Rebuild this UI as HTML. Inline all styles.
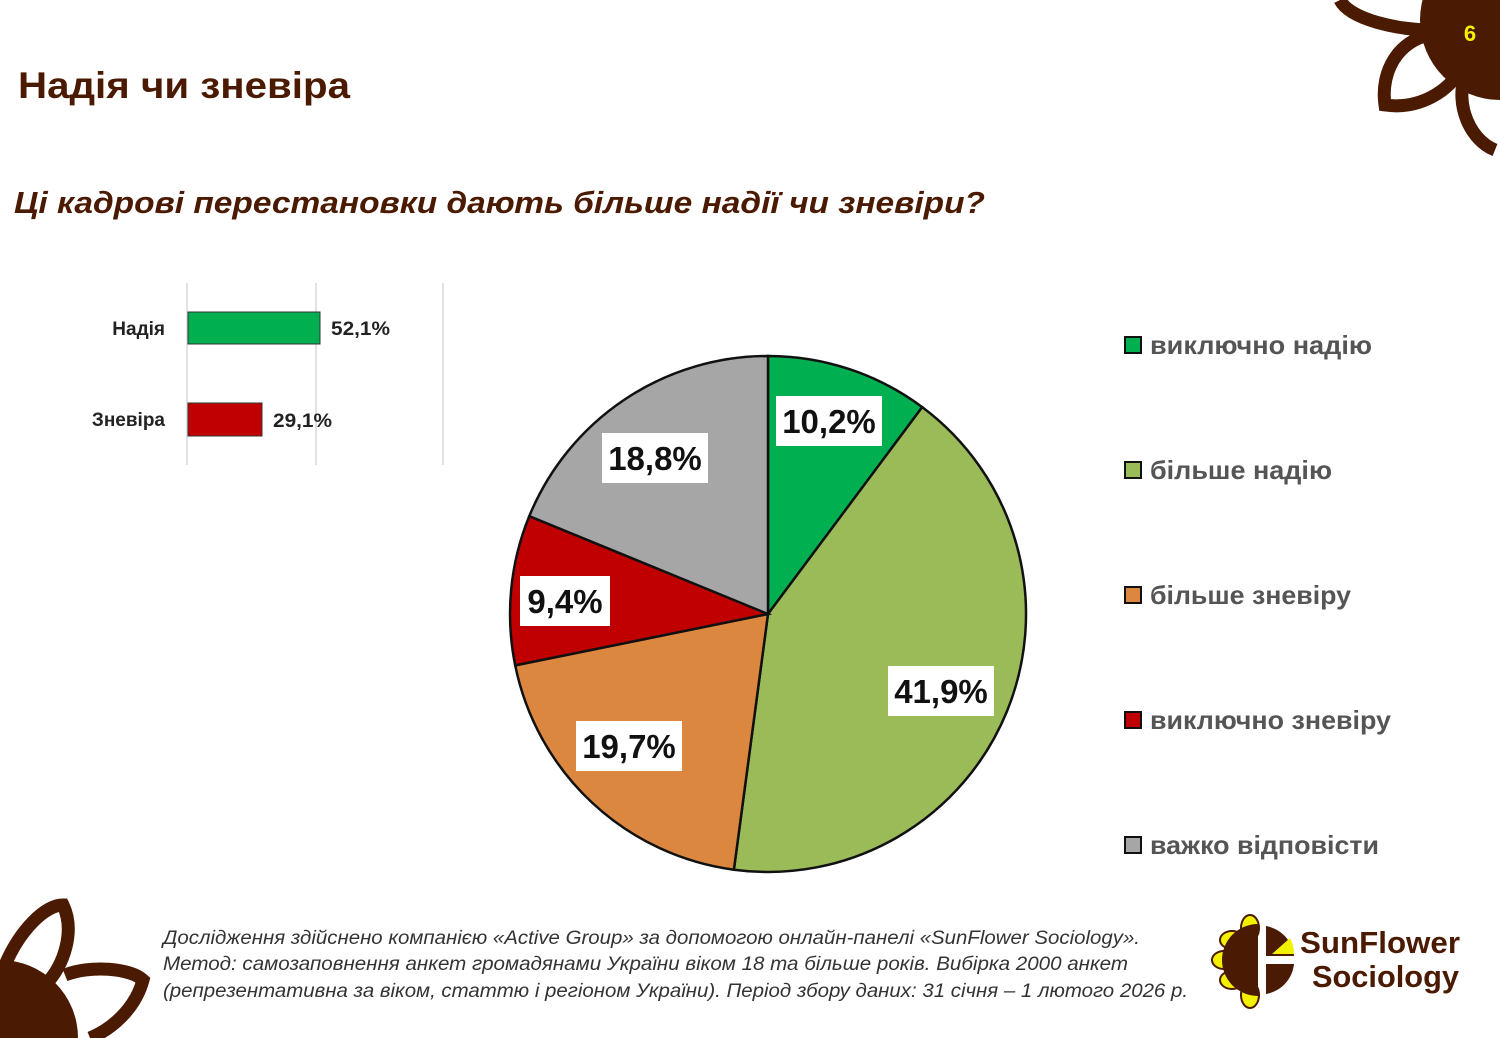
<!DOCTYPE html>
<html><head><meta charset="utf-8"><style>
html,body{margin:0;padding:0;background:#fff;overflow:hidden;width:1500px;height:1038px;}
svg{display:block;font-family:"Liberation Sans","DejaVu Sans",sans-serif;}
</style></head><body>
<svg width="1500" height="1038" viewBox="0 0 1500 1038" xmlns="http://www.w3.org/2000/svg">
<rect width="1500" height="1038" fill="#fff"/>
<!-- top-right flower -->
<g fill="none" stroke="#4a1a02" stroke-width="13">
<path d="M1340 0 C1350 20 1400 30 1430 30"/>
<path d="M1430 35 C1400 40 1380 70 1385 105 C1420 110 1450 90 1460 70"/>
<path d="M1465 75 C1455 105 1470 140 1495 150"/>
</g>
<circle cx="1500" cy="20" r="80" fill="#4a1a02"/>
<text x="1470" y="41" font-size="22" font-weight="bold" fill="#f2f200" text-anchor="middle">6</text>
<!-- bottom-left flower -->
<g fill="none" stroke="#4a1a02" stroke-width="13">
<path d="M5 965 C20 930 45 905 63 905 C75 930 65 965 45 985"/>
<path d="M65 975 C90 965 130 968 143 980 C135 1010 110 1030 90 1038"/>
</g>
<circle cx="0" cy="1038" r="78" fill="#4a1a02"/>
<!-- titles -->
<text x="18" y="98" font-size="37" font-weight="bold" fill="#4a1a02" textLength="332" lengthAdjust="spacingAndGlyphs">Надія чи зневіра</text>
<text x="14" y="213" font-size="31" font-weight="bold" font-style="italic" fill="#4a1a02" textLength="971" lengthAdjust="spacingAndGlyphs">Ці кадрові перестановки дають більше надії чи зневіри?</text>
<!-- bar chart -->
<g stroke="#d9d9d9" stroke-width="1.5">
<line x1="187" y1="283" x2="187" y2="465"/><line x1="316" y1="283" x2="316" y2="465"/><line x1="443" y1="283" x2="443" y2="465"/>
</g>
<rect x="188" y="312" width="132" height="32" fill="#00b050" stroke="#333" stroke-width="1"/>
<rect x="188" y="403" width="74" height="33" fill="#c00000" stroke="#333" stroke-width="1"/>
<g font-size="19" font-weight="bold" fill="#222">
<text x="165" y="335" text-anchor="end">Надія</text>
<text x="165" y="426" text-anchor="end">Зневіра</text>
<text x="331" y="335" textLength="59" lengthAdjust="spacingAndGlyphs">52,1%</text>
<text x="273" y="427" textLength="59" lengthAdjust="spacingAndGlyphs">29,1%</text>
</g>
<!-- pie -->
<g stroke="#111" stroke-width="2.5">
<path d="M768 614 L768 356 A258 258 0 0 1 922.2 407.1 Z" fill="#00b050"/>
<path d="M768 614 L922.2 407.1 A258 258 0 0 1 733.9 869.7 Z" fill="#9bbb59"/>
<path d="M768 614 L733.9 869.7 A258 258 0 0 1 515.2 665.4 Z" fill="#db8740"/>
<path d="M768 614 L515.2 665.4 A258 258 0 0 1 529.3 516.1 Z" fill="#c00000"/>
<path d="M768 614 L529.3 516.1 A258 258 0 0 1 768 356 Z" fill="#a6a6a6"/>
</g>
<g font-size="33" font-weight="bold" fill="#111">
<rect x="776" y="396" width="106" height="50" fill="#fff"/><text x="829" y="433" text-anchor="middle">10,2%</text>
<rect x="602" y="433" width="106" height="50" fill="#fff"/><text x="655" y="470" text-anchor="middle">18,8%</text>
<rect x="520" y="576" width="90" height="50" fill="#fff"/><text x="565" y="613" text-anchor="middle">9,4%</text>
<rect x="888" y="666" width="106" height="50" fill="#fff"/><text x="941" y="703" text-anchor="middle">41,9%</text>
<rect x="576" y="721" width="106" height="50" fill="#fff"/><text x="629" y="758" text-anchor="middle">19,7%</text>
</g>
<!-- legend -->
<g stroke="#111" stroke-width="2">
<rect x="1125" y="337" width="16" height="16" fill="#00b050"/>
<rect x="1125" y="462" width="16" height="16" fill="#9bbb59"/>
<rect x="1125" y="587" width="16" height="16" fill="#db8740"/>
<rect x="1125" y="712" width="16" height="16" fill="#c00000"/>
<rect x="1125" y="837" width="16" height="16" fill="#a6a6a6"/>
</g>
<g font-size="26" font-weight="bold" fill="#555">
<text x="1150" y="354" textLength="222" lengthAdjust="spacingAndGlyphs">виключно надію</text>
<text x="1150" y="479" textLength="182" lengthAdjust="spacingAndGlyphs">більше надію</text>
<text x="1150" y="604" textLength="201" lengthAdjust="spacingAndGlyphs">більше зневіру</text>
<text x="1150" y="729" textLength="241" lengthAdjust="spacingAndGlyphs">виключно зневіру</text>
<text x="1150" y="854" textLength="229" lengthAdjust="spacingAndGlyphs">важко відповісти</text>
</g>
<!-- footer -->
<g font-size="19" font-style="italic" fill="#333">
<text x="163" y="944" textLength="977" lengthAdjust="spacingAndGlyphs">Дослідження здійснено компанією «Active Group» за допомогою онлайн-панелі «SunFlower Sociology».</text>
<text x="163" y="970" textLength="965" lengthAdjust="spacingAndGlyphs">Метод: самозаповнення анкет громадянами України віком 18 та більше років. Вибірка 2000 анкет</text>
<text x="163" y="997" textLength="1025" lengthAdjust="spacingAndGlyphs">(репрезентативна за віком, статтю і регіоном України). Період збору даних: 31 січня – 1 лютого 2026 р.</text>
</g>
<!-- logo -->
<g stroke="#4a1a02" stroke-width="2" fill="#f2f200">
<ellipse cx="1250" cy="928" rx="9" ry="13"/>
<ellipse cx="1232" cy="940" rx="12" ry="9"/>
<ellipse cx="1224" cy="960" rx="12" ry="9"/>
<ellipse cx="1232" cy="980" rx="12" ry="9"/>
<ellipse cx="1250" cy="995" rx="9" ry="13"/>
</g>
<path d="M1258 924 A36 36 0 0 0 1258 996 Z" fill="#4a1a02"/>
<path d="M1266 926 A34 34 0 0 1 1294 956 L1266 956 Z" fill="#4a1a02"/>
<path d="M1266 964 L1294 964 A34 34 0 0 1 1266 994 Z" fill="#4a1a02"/>
<path d="M1272 954 L1290 938 A34 34 0 0 1 1294 954 Z" fill="#f2f200"/>
<g font-size="31" font-weight="bold" fill="#4a1a02">
<text x="1300" y="953" textLength="160" lengthAdjust="spacingAndGlyphs">SunFlower</text>
<text x="1312" y="987" textLength="147" lengthAdjust="spacingAndGlyphs">Sociology</text>
</g>
</svg>
</body></html>
